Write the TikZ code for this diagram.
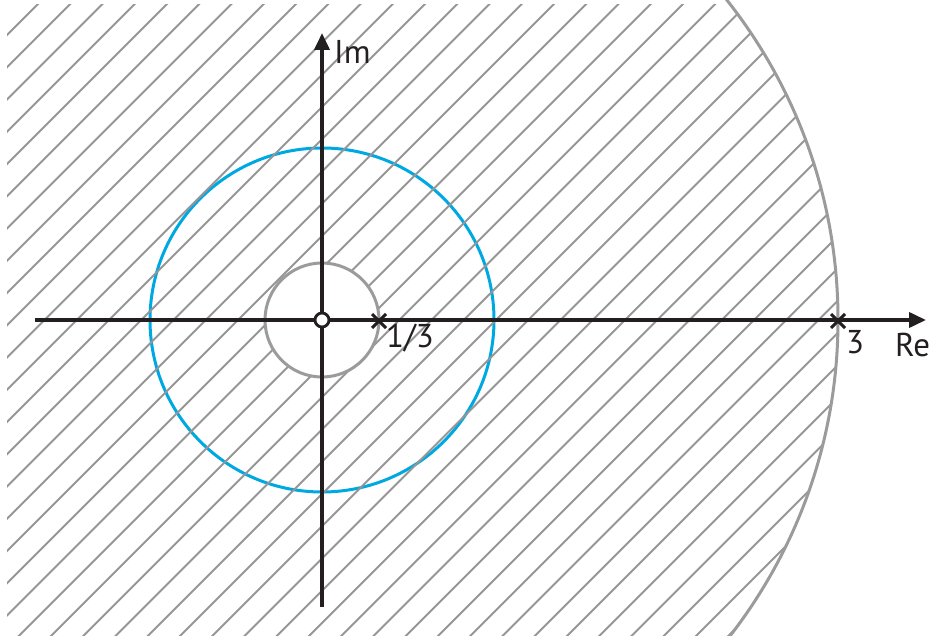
\documentclass[tikz,border=0pt]{standalone}
\usepackage{fontspec}
\setmainfont{PT Sans}
\usetikzlibrary{arrows.meta,calc}
\definecolor{hatchgray}{RGB}{150,150,150}
\definecolor{ringgray}{RGB}{155,155,155}
\definecolor{unitblue}{RGB}{0,168,226}
\definecolor{axisblack}{RGB}{35,31,32}
\tikzset{
  hatchline/.style={draw=hatchgray,line width=2pt},
  ring/.style={draw=ringgray,line width=3pt},
  unitc/.style={draw=unitblue,line width=3pt},
  axis/.style={draw=axisblack,line width=3.8pt,-{Triangle[length=17pt,width=15pt]}},
  crossmark/.style={draw=axisblack,line width=3pt},
  lab/.style={font=\fontsize{33}{33}\selectfont,text=axisblack,inner sep=0pt,anchor=base west}
}
\begin{document}
\begin{tikzpicture}[x=1pt,y=-1pt]
\useasboundingbox (0,0) rectangle (937,636);
\coordinate (O) at (322,320);
% unit circle
\draw[unitc] (O) circle[radius=172];
% hatching
\begin{scope}
  \clip (7,5) rectangle (937,640);
  \clip (O) circle[radius=516];
  \foreach \k in {0,...,48}{
    \pgfmathsetmacro{\c}{42+32.25*\k}
    \draw[hatchline] (\c+60,-60) -- (\c-700,700);
  }
\end{scope}
% inner hole
\fill[white] (O) circle[radius=57];
\draw[ring] (O) circle[radius=57];
\draw[ring] (O) circle[radius=516];
% axes
\coordinate (xs) at (35,320);
\coordinate (xe) at (926,320);
\coordinate (ys) at (322,607);
\coordinate (ye) at (322,33);
\draw[axis] (xs) -- (xe);
\draw[axis] (ys) -- (ye);
% crosses
\coordinate (p1) at (379,321);
\coordinate (p3) at (838,321);
\foreach \p in {p1,p3}{
  \draw[crossmark] ($(\p)+(-7,-7)$) -- ($(\p)+(7,7)$);
  \draw[crossmark] ($(\p)+(-7,7)$) -- ($(\p)+(7,-7)$);
}
% origin
\node[circle,draw=axisblack,fill=white,line width=2.8pt,minimum size=14pt,inner sep=0pt] (o) at (O) {};
% labels
\node[lab] (l13) at (386,348) {1/3};
\node[lab] (l3) at (846,353) {3};
\node[lab] (lre) at (895,356) {Re};
\node[lab] (lim) at (334,64) {Im};
\end{tikzpicture}
\end{document}
